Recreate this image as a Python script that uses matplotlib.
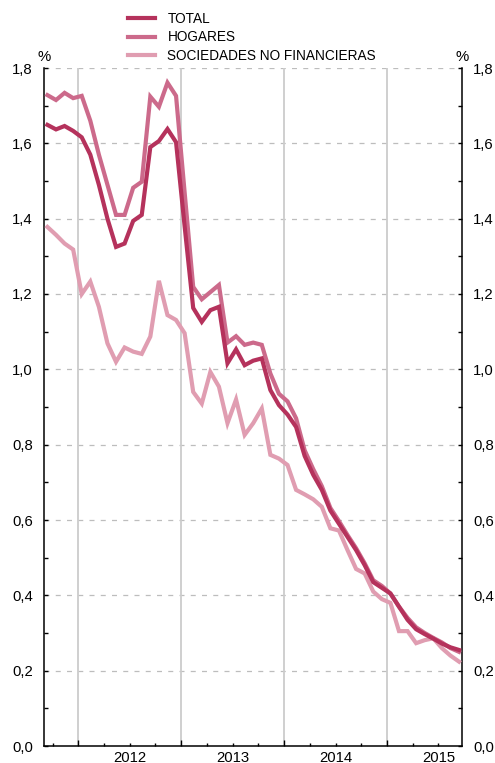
import matplotlib
matplotlib.use("Agg")
import matplotlib.pyplot as plt
from matplotlib.ticker import MultipleLocator, FixedLocator, NullFormatter, FuncFormatter
import pandas as pd

plt.rcParams['font.family'] = ['Liberation Sans', 'DejaVu Sans']

# monthly data, Sep 2011 - Sep 2015 (%)
months = pd.period_range('2011-09', '2015-09', freq='M')

total = [1.649, 1.637, 1.646, 1.633, 1.616, 1.57, 1.49, 1.40, 1.325, 1.334,
         1.394, 1.41, 1.59, 1.606, 1.638, 1.603, 1.38, 1.163, 1.126, 1.157,
         1.166, 1.016, 1.053, 1.011, 1.023, 1.029, 0.945, 0.905, 0.88, 0.847,
         0.77, 0.72, 0.68, 0.625, 0.59, 0.555, 0.52, 0.48, 0.435, 0.42,
         0.405, 0.37, 0.335, 0.31, 0.297, 0.285, 0.272, 0.262, 0.255]

hogares = [1.728, 1.715, 1.734, 1.72, 1.726, 1.66, 1.57, 1.49, 1.41, 1.41,
           1.482, 1.498, 1.724, 1.697, 1.761, 1.726, 1.47, 1.219, 1.186, 1.205,
           1.224, 1.071, 1.088, 1.065, 1.071, 1.065, 0.989, 0.935, 0.915, 0.87,
           0.785, 0.735, 0.69, 0.632, 0.597, 0.56, 0.525, 0.485, 0.44, 0.425,
           0.405, 0.37, 0.34, 0.315, 0.3, 0.287, 0.275, 0.26, 0.25]

sociedades = [1.378, 1.357, 1.334, 1.318, 1.20, 1.233, 1.166, 1.069, 1.02, 1.058,
              1.047, 1.041, 1.087, 1.235, 1.144, 1.131, 1.096, 0.94, 0.909, 0.993,
              0.954, 0.857, 0.92, 0.826, 0.857, 0.896, 0.773, 0.763, 0.746, 0.68,
              0.668, 0.655, 0.635, 0.578, 0.572, 0.52, 0.47, 0.458, 0.41, 0.39,
              0.38, 0.305, 0.305, 0.273, 0.281, 0.286, 0.26, 0.24, 0.224]

labels = ['TOTAL', 'HOGARES', 'SOCIEDADES NO FINANCIERAS']
colors = ['#b5325c', '#cc6a8b', '#e09db1']
years = [2012, 2013, 2014, 2015]

# x in months since Jan 2012
x = [(m.year - 2012) * 12 + m.month - 1 + 0.4 for m in months]

fig = plt.figure(figsize=(4.95, 7.63), dpi=100)
ax = fig.add_axes([44 / 495, 17 / 763, 418 / 495, 678 / 763])

l3, = ax.plot(x, sociedades, color=colors[2], lw=3, solid_joinstyle='miter', zorder=3)
l2, = ax.plot(x, hogares, color=colors[1], lw=3, solid_joinstyle='miter', zorder=4)
l1, = ax.plot(x, total, color=colors[0], lw=3, solid_joinstyle='miter', zorder=5)

ax.set_xlim(-4, 44.75)
ax.set_ylim(0, 1.8)

# gridlines
for v in [0.2, 0.4, 0.6, 0.8, 1.0, 1.2, 1.4, 1.6, 1.8]:
    ax.axhline(v, color='#bdbdbd', lw=0.9, dashes=(4, 5), zorder=1)
for yr in years[:-1]:
    ax.axvline((yr - 2012) * 12, color='#cccccc', lw=1.3, zorder=1)
ax.axvline(36, color='#cccccc', lw=1.3, zorder=1)

for s in ['top']:
    ax.spines[s].set_visible(False)
for s in ['left', 'right', 'bottom']:
    ax.spines[s].set_linewidth(1.1)

# x ticks
ax.xaxis.set_major_locator(FixedLocator([0, 12, 24, 36]))
ax.xaxis.set_minor_locator(FixedLocator([m for m in range(-3, 45, 3) if m % 12 != 0]))
ax.xaxis.set_major_formatter(NullFormatter())
ax.tick_params(axis='x', which='major', direction='in', length=4.5, width=1)
ax.tick_params(axis='x', which='minor', direction='in', length=2.2, width=1)
for yr in years:
    ax.text((yr - 2012) * 12 + 6, -0.012, str(yr), ha='center', va='top',
            fontsize=10.7, transform=ax.transData)

# y ticks
ax.yaxis.set_major_locator(MultipleLocator(0.2))
ax.yaxis.set_minor_locator(MultipleLocator(0.1))
ax.yaxis.set_major_formatter(FuncFormatter(lambda v, p: f"{v:.1f}".replace('.', ',')))
ax.tick_params(axis='y', which='both', direction='in', length=3, width=1,
               left=True, right=True, labelleft=True, labelright=True,
               labelsize=10.7, pad=8)

ax.text(0, 1.016, '%', transform=ax.transAxes, ha='center', va='center', fontsize=10.7)
ax.text(1, 1.016, '%', transform=ax.transAxes, ha='center', va='center', fontsize=10.7)

fig.legend([l1, l2, l3], labels, loc='upper left', bbox_to_anchor=(128 / 495, 1 - 12 / 763),
           frameon=False, fontsize=9.8, handlelength=1.95, handletextpad=0.95,
           labelspacing=0.32, borderpad=0, borderaxespad=0)

fig.savefig('out.png', dpi=100)
